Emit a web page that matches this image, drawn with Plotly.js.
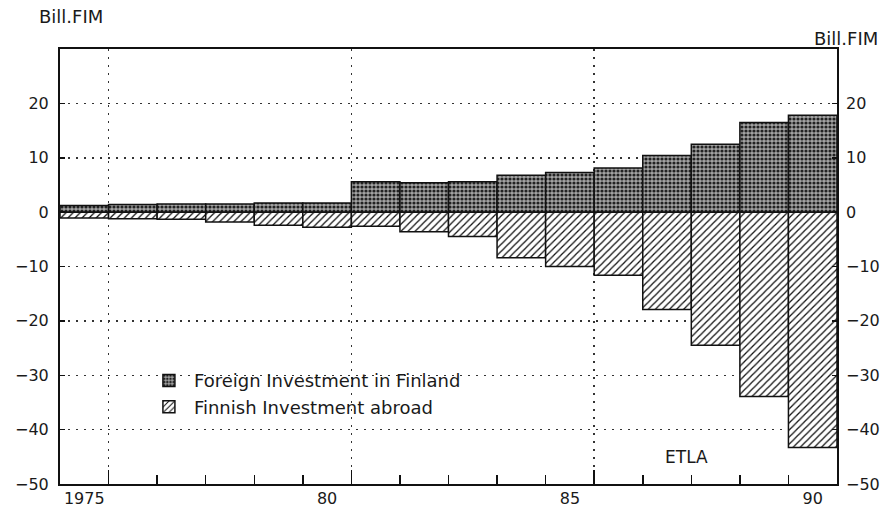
<!DOCTYPE html>
<html>
<head>
<meta charset="utf-8">
<script src="https://cdn.plot.ly/plotly-3.0.1.min.js"></script>
<style>html,body{margin:0;padding:0;background:#fff;}#chart{width:881px;height:518px;}</style>
</head>
<body>
<div id="chart"></div>
<script>
const years = [1975,1976,1977,1978,1979,1980,1981,1982,1983,1984,1985,1986,1987,1988,1989,1990];
const foreignInFinland = [1.2,1.4,1.5,1.5,1.7,1.7,5.6,5.4,5.6,6.8,7.3,8.1,10.4,12.5,16.5,17.8];
const finnishAbroad = [-1.1,-1.2,-1.3,-1.8,-2.4,-2.8,-2.6,-3.6,-4.5,-8.4,-10.0,-11.6,-17.9,-24.5,-33.9,-43.3];
const xTickVals = [1975,1980,1985,1990];
const xTickText = ["1975","80","85","90"];
const yTickVals = [20,10,0,-10,-20,-30,-40,-50];
const seriesNames = ["Foreign Investment in Finland","Finnish Investment abroad"];

const boundaries = years.slice(1).map(y => y - 0.5);
const majorBoundaries = boundaries.filter(b => (b + 0.5) % 5 === 1);
const gridY = yTickVals.filter(v => v !== 0 && v !== -50);
const xRange = [years[0] - 0.5, years[years.length - 1] + 0.5];
const yRange = [-50, 30];
const FAM = "DejaVu Sans, Liberation Sans, Arial, sans-serif";
const fnt = {family: FAM, size: 16, color: "#1a1a1a"};
const DOTS = "2px,6px";

const traces = [
  {type: "bar", name: seriesNames[0], x: years, y: foreignInFinland,
   marker: {color: "#7c7c7c", line: {color: "#111", width: 1.5},
            pattern: {shape: ".", fgcolor: "#222", bgcolor: "#a4a4a4", size: 4, solidity: 0.5}}},
  {type: "bar", name: seriesNames[1], x: years, y: finnishAbroad,
   marker: {color: "#fff", line: {color: "#111", width: 1.5},
            pattern: {shape: "/", fgcolor: "#111", bgcolor: "#fff", size: 5, solidity: 0.25}}},
  {type: "scatter", x: xRange, y: [null, null], xaxis: "x2", yaxis: "y2", showlegend: false, hoverinfo: "skip"}
];

const layout = {
  width: 881, height: 518,
  margin: {l: 60, r: 44, t: 49, b: 34},
  paper_bgcolor: "#fff", plot_bgcolor: "#fff",
  font: fnt,
  barmode: "relative", bargap: 0,
  showlegend: true,
  legend: {x: 0.108, y: 0.28, xanchor: "left", yanchor: "top", bgcolor: "rgba(0,0,0,0)",
           font: {family: FAM, size: 18, color: "#1a1a1a"},
           traceorder: "normal", itemwidth: 40, tracegroupgap: 0},
  xaxis: {range: xRange, tickmode: "array", tickvals: majorBoundaries, showticklabels: false,
          ticks: "inside", ticklen: 14, tickwidth: 1.5, tickcolor: "#111",
          showgrid: true, gridcolor: "#333", griddash: DOTS, gridwidth: 1.5,
          minor: {tickmode: "array", tickvals: boundaries, ticks: "inside", ticklen: 9, tickwidth: 1.5, tickcolor: "#111", showgrid: false},
          showline: true, linecolor: "#111", linewidth: 2, mirror: true, zeroline: false, fixedrange: true},
  xaxis2: {range: xRange, overlaying: "x", side: "bottom", anchor: "y", tickmode: "array",
           tickvals: xTickVals, ticktext: xTickText, ticks: "", showgrid: false, showline: false,
           zeroline: false, tickfont: fnt, ticklabelstandoff: 3},
  yaxis: {range: yRange, tickmode: "array", tickvals: gridY.concat([0, -50]), ticks: "inside",
          ticklen: 5, tickwidth: 1.5, tickcolor: "#111", tickfont: fnt, ticklabelstandoff: 6,
          showgrid: true, gridcolor: "#333", griddash: DOTS, gridwidth: 1.5,
          showline: true, linecolor: "#111", linewidth: 2, mirror: true, zeroline: false},
  yaxis2: {range: yRange, overlaying: "y", side: "right", anchor: "x", tickmode: "array",
           tickvals: yTickVals, ticks: "inside", ticklen: 5, tickwidth: 1.5, tickcolor: "#111",
           tickfont: fnt, ticklabelstandoff: 8, showgrid: false, zeroline: false, showline: false},
  annotations: [
    {text: "Bill.FIM", xref: "paper", yref: "paper", x: -0.03, y: 1.045, xanchor: "left", yanchor: "bottom",
     showarrow: false, font: {family: FAM, size: 18, color: "#1a1a1a"}},
    {text: "Bill.FIM", xref: "paper", yref: "paper", x: 1.055, y: 0.995, xanchor: "right", yanchor: "bottom",
     showarrow: false, font: {family: FAM, size: 18, color: "#1a1a1a"}},
    {text: "ETLA", xref: "x", yref: "y", x: 1987.4, y: -45, showarrow: false,
     font: {family: FAM, size: 17, color: "#1a1a1a"}}
  ]
};

Plotly.newPlot("chart", traces, layout, {displayModeBar: false, staticPlot: true});
</script>
</body>
</html>
